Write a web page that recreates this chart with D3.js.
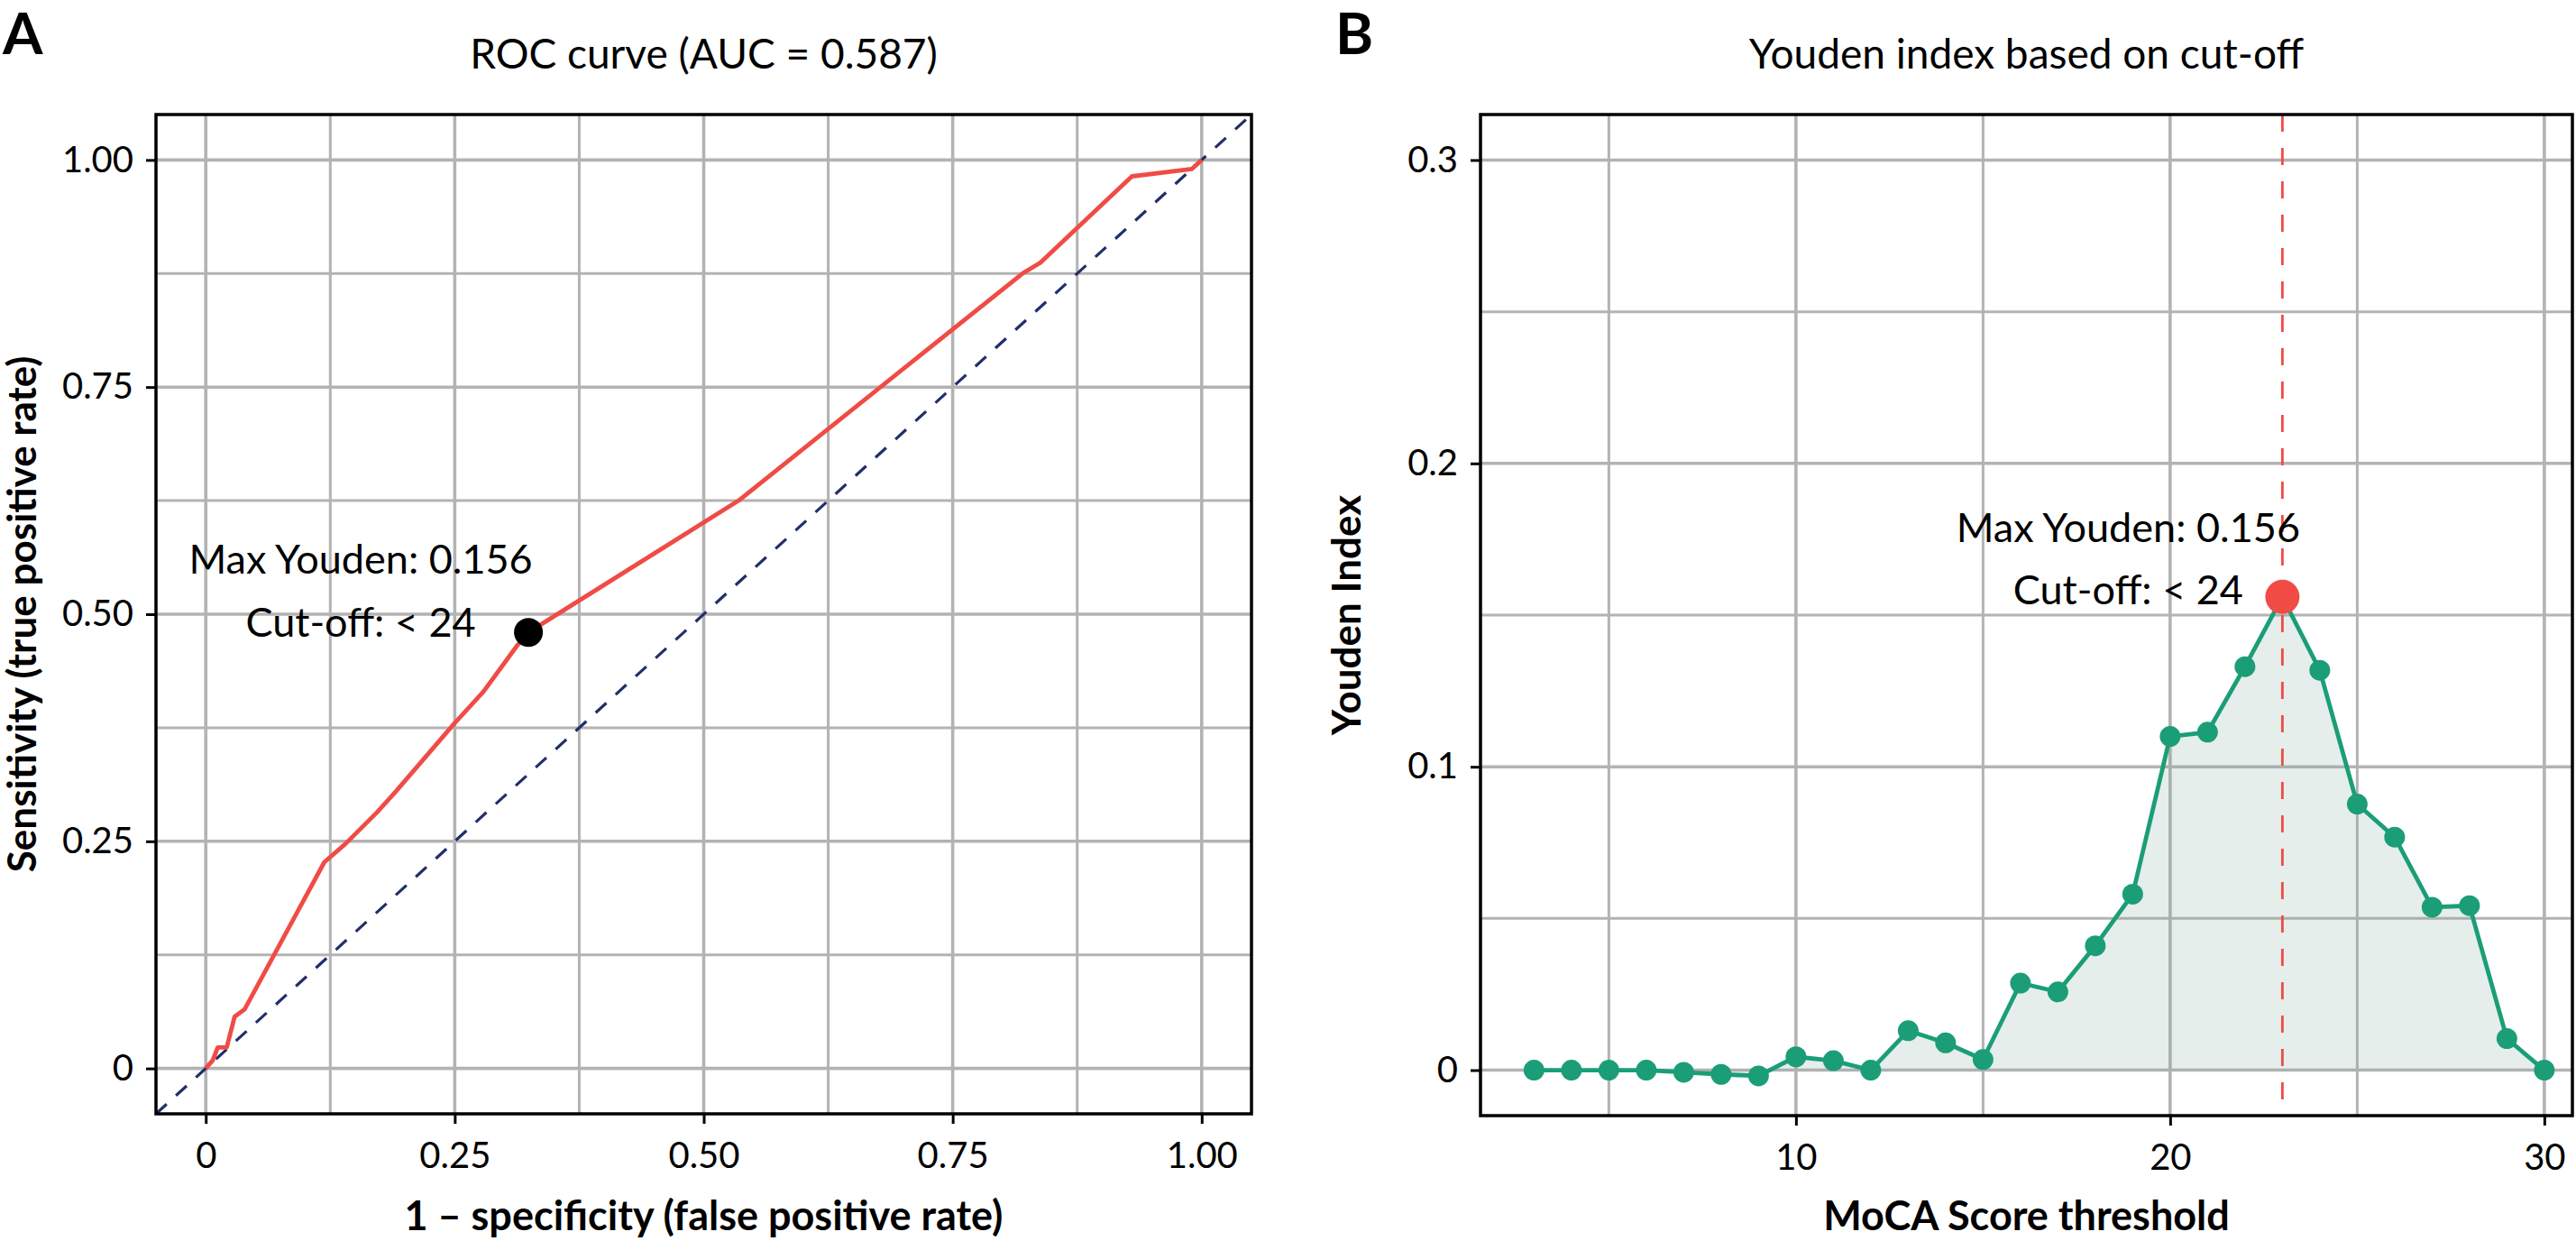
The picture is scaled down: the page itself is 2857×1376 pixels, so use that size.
<!DOCTYPE html>
<html>
<head>
<meta charset="utf-8">
<script src="https://cdn.jsdelivr.net/npm/d3@7"></script>
<style>
    body { margin: 0; background: #ffffff; }
</style>
</head>
<body>
<div id="chart"></div>
<script>
// ROC curve (panel A)
const rocFpr = [0, 0.007, 0.012, 0.021, 0.029, 0.039, 0.119, 0.140, 0.172, 0.191, 0.249, 0.279, 0.313, 0.324, 0.535, 0.820, 0.838, 0.930, 0.990, 1];
const rocTpr = [0, 0.009, 0.023, 0.023, 0.057, 0.065, 0.227, 0.247, 0.282, 0.305, 0.379, 0.415, 0.466, 0.480, 0.625, 0.875, 0.887, 0.982, 0.990, 1];
const rocTicks = [0, 0.25, 0.5, 0.75, 1];
const rocTickLabels = ["0", "0.25", "0.50", "0.75", "1.00"];
const rocMinorTicks = [0.125, 0.375, 0.625, 0.875];

// Youden index per MoCA threshold (panel B)
const cutoffs = [3, 4, 5, 6, 7, 8, 9, 10, 11, 12, 13, 14, 15, 16, 17, 18, 19, 20, 21, 22, 23, 24, 25, 26, 27, 28, 29, 30];
const youden = [0, 0, 0, 0, -0.0007, -0.0014, -0.0019, 0.0044, 0.0031, 0, 0.013, 0.009, 0.0035, 0.0287, 0.0258, 0.041, 0.058, 0.110, 0.1114, 0.133, 0.156, 0.1318, 0.0877, 0.0768, 0.0537, 0.0542, 0.0104, 0];
const cutoffTicks = [10, 20, 30];
const cutoffMinorTicks = [5, 15, 25];
const youdenTicks = [0, 0.1, 0.2, 0.3];
const youdenTickLabels = ["0", "0.1", "0.2", "0.3"];
const youdenMinorTicks = [0.05, 0.15, 0.25];

// Optimal point
const bestCutoff = 23;
const bestYouden = 0.156;
const bestFpr = 0.324;
const bestTpr = 0.480;
const bestLabels = ["Max Youden: 0.156", "Cut-off: < 24"];

const attrs = {
    svgWidth: 2857,
    svgHeight: 1376,
    defaultFont: "Lato",
    textFill: "#000000",
    gridColor: "#b3b3b3",
    rocColor: "#f04b45",
    diagColor: "#222e6a",
    youdenColor: "#1b9e77",
    areaFill: "#7fa89c",
    markColor: "#f04b45",
    tickSize: 11
};

const svg = d3.select("#chart")
    .append("svg")
    .attr("width", attrs.svgWidth)
    .attr("height", attrs.svgHeight)
    .attr("font-family", attrs.defaultFont)
    .style("background", "#ffffff");

// panel frames
const panelA = {
    id: "a", left: 173, right: 1388, top: 127, bottom: 1235,
    x: d3.scaleLinear().domain([-0.05, 1.05]),
    y: d3.scaleLinear().domain([-0.05, 1.05]),
    xTicks: rocTicks, xLabels: rocTickLabels, xMinor: rocMinorTicks,
    yTicks: rocTicks, yLabels: rocTickLabels, yMinor: rocMinorTicks,
    title: "ROC curve (AUC = 0.587)",
    xTitle: "1 \u2013 specificity (false positive rate)",
    yTitle: "Sensitivity (true positive rate)",
    tag: "A", tagX: 3
};
const panelB = {
    id: "b", left: 1642, right: 2853, top: 127, bottom: 1237,
    x: d3.scaleLinear().domain([1.57, 30.75]),
    y: d3.scaleLinear().domain([-0.015, 0.315]),
    xTicks: cutoffTicks, xLabels: cutoffTicks.map(String), xMinor: cutoffMinorTicks,
    yTicks: youdenTicks, yLabels: youdenTickLabels, yMinor: youdenMinorTicks,
    title: "Youden index based on cut-off",
    xTitle: "MoCA Score threshold",
    yTitle: "Youden Index",
    tag: "B", tagX: 1481
};

[panelA, panelB].forEach(p => {
    p.x.range([p.left, p.right]);
    p.y.range([p.bottom, p.top]);
});

function drawGrid(p) {
    const g = svg.append("g").attr("class", "grid-" + p.id);
    const lines = [
        ...p.xMinor.map(v => ({ v, axis: "x", w: 3 })),
        ...p.yMinor.map(v => ({ v, axis: "y", w: 3 })),
        ...p.xTicks.map(v => ({ v, axis: "x", w: 3.6 })),
        ...p.yTicks.map(v => ({ v, axis: "y", w: 3.6 }))
    ];
    g.selectAll("line")
        .data(lines)
        .join("line")
        .attr("x1", d => d.axis === "x" ? p.x(d.v) : p.left)
        .attr("x2", d => d.axis === "x" ? p.x(d.v) : p.right)
        .attr("y1", d => d.axis === "y" ? p.y(d.v) : p.top)
        .attr("y2", d => d.axis === "y" ? p.y(d.v) : p.bottom)
        .attr("stroke", attrs.gridColor)
        .attr("stroke-width", d => d.w);

    svg.append("clipPath")
        .attr("id", "clip-" + p.id)
        .append("rect")
        .attr("x", p.left)
        .attr("y", p.top)
        .attr("width", p.right - p.left)
        .attr("height", p.bottom - p.top);
}

function drawAxes(p) {
    const xAxis = d3.axisBottom(p.x)
        .tickValues(p.xTicks)
        .tickFormat((d, i) => p.xLabels[i])
        .tickSize(attrs.tickSize)
        .tickSizeOuter(0)
        .tickPadding(21);
    const yAxis = d3.axisLeft(p.y)
        .tickValues(p.yTicks)
        .tickFormat((d, i) => p.yLabels[i])
        .tickSize(attrs.tickSize)
        .tickSizeOuter(0)
        .tickPadding(14);

    const gx = svg.append("g")
        .attr("transform", `translate(0,${p.bottom})`)
        .call(xAxis);
    const gy = svg.append("g")
        .attr("transform", `translate(${p.left},0)`)
        .call(yAxis);

    [gx, gy].forEach(g => {
        g.select(".domain").remove();
        g.selectAll(".tick line").attr("stroke", "#000").attr("stroke-width", 3);
        g.selectAll(".tick text")
            .attr("fill", attrs.textFill)
            .attr("font-size", 40)
            .attr("font-family", attrs.defaultFont);
    });

    // panel border on top
    svg.append("rect")
        .attr("x", p.left)
        .attr("y", p.top)
        .attr("width", p.right - p.left)
        .attr("height", p.bottom - p.top)
        .attr("fill", "none")
        .attr("stroke", "#000")
        .attr("stroke-width", 3.5);

    const cx = (p.left + p.right) / 2;
    const cy = (p.top + p.bottom) / 2;

    svg.append("text")
        .attr("x", cx)
        .attr("y", 76)
        .attr("text-anchor", "middle")
        .attr("font-size", 46)
        .attr("fill", attrs.textFill)
        .text(p.title);

    svg.append("text")
        .attr("x", cx)
        .attr("y", 1364)
        .attr("text-anchor", "middle")
        .attr("font-size", 45)
        .attr("font-weight", "bold")
        .attr("fill", attrs.textFill)
        .text(p.xTitle);

    svg.append("text")
        .attr("transform", `translate(${p.left - 133},${cy}) rotate(-90)`)
        .attr("text-anchor", "middle")
        .attr("font-size", 44)
        .attr("font-weight", "bold")
        .attr("fill", attrs.textFill)
        .text(p.yTitle);

    svg.append("text")
        .attr("x", p.tagX)
        .attr("y", 60)
        .attr("font-size", 64)
        .attr("font-weight", "bold")
        .attr("fill", attrs.textFill)
        .text(p.tag);
}

function drawLabels(px, py, dx, dyTop, dyBottom) {
    svg.selectAll(null)
        .data(bestLabels)
        .join("text")
        .attr("x", px + dx)
        .attr("y", (d, i) => py + (i === 0 ? dyTop : dyBottom))
        .attr("text-anchor", "middle")
        .attr("font-size", 45)
        .attr("fill", attrs.textFill)
        .text(d => d);
}

// ---- Panel A: ROC ----
drawGrid(panelA);
(function drawRoc(p) {
    const g = svg.append("g").attr("clip-path", "url(#clip-a)");
    const diag = p.x.domain();
    g.append("line")
        .attr("x1", p.x(diag[0]))
        .attr("y1", p.y(diag[0]))
        .attr("x2", p.x(diag[1]))
        .attr("y2", p.y(diag[1]))
        .attr("stroke", attrs.diagColor)
        .attr("stroke-width", 3.2)
        .attr("stroke-dasharray", "16,14");

    const rocData = rocFpr.map((f, i) => ({ f, t: rocTpr[i] }));
    const line = d3.line().x(d => p.x(d.f)).y(d => p.y(d.t));
    g.append("path")
        .datum(rocData)
        .attr("d", line)
        .attr("fill", "none")
        .attr("stroke", attrs.rocColor)
        .attr("stroke-width", 4.8)
        .attr("stroke-linejoin", "round");

    g.append("circle")
        .attr("cx", p.x(bestFpr))
        .attr("cy", p.y(bestTpr))
        .attr("r", 16)
        .attr("fill", "#000");

    drawLabels(p.x(bestFpr), p.y(bestTpr), -186, -65, 5);
})(panelA);
drawAxes(panelA);

// ---- Panel B: Youden ----
drawGrid(panelB);
(function drawYouden(p) {
    const g = svg.append("g").attr("clip-path", "url(#clip-b)");
    const data = cutoffs.map((c, i) => ({ c, v: youden[i] }));

    const area = d3.area()
        .x(d => p.x(d.c))
        .y0(p.y(0))
        .y1(d => p.y(d.v));
    g.append("path")
        .datum(data)
        .attr("d", area)
        .attr("fill", attrs.areaFill)
        .attr("fill-opacity", 0.2);

    g.append("line")
        .attr("x1", p.x(bestCutoff))
        .attr("x2", p.x(bestCutoff))
        .attr("y1", p.top)
        .attr("y2", p.bottom)
        .attr("stroke", attrs.markColor)
        .attr("stroke-width", 2.8)
        .attr("stroke-dasharray", "19,18");

    const line = d3.line().x(d => p.x(d.c)).y(d => p.y(d.v));
    g.append("path")
        .datum(data)
        .attr("d", line)
        .attr("fill", "none")
        .attr("stroke", attrs.youdenColor)
        .attr("stroke-width", 4.8)
        .attr("stroke-linejoin", "round");

    g.selectAll(".pt")
        .data(data)
        .join("circle")
        .attr("class", "pt")
        .attr("cx", d => p.x(d.c))
        .attr("cy", d => p.y(d.v))
        .attr("r", 11.5)
        .attr("fill", attrs.youdenColor);

    g.append("circle")
        .attr("cx", p.x(bestCutoff))
        .attr("cy", p.y(bestYouden))
        .attr("r", 19)
        .attr("fill", attrs.markColor);

    drawLabels(p.x(bestCutoff), p.y(bestYouden), -171, -61, 8);
})(panelB);
drawAxes(panelB);
</script>
</body>
</html>
